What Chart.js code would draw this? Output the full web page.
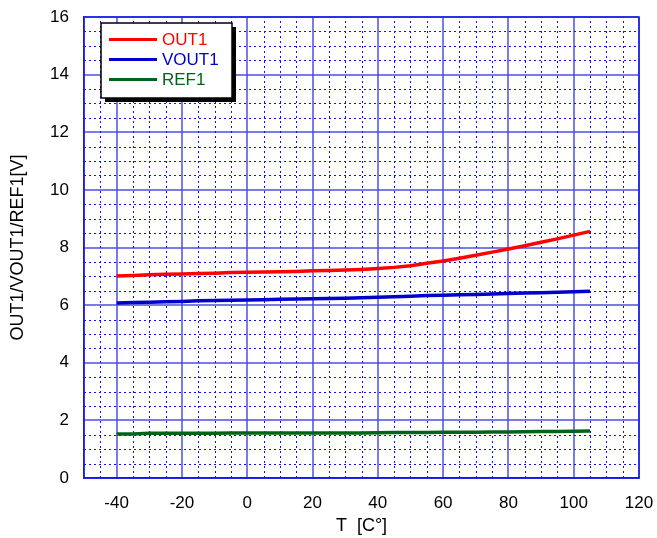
<!DOCTYPE html>
<html><head><meta charset="utf-8">
<script src="https://cdn.jsdelivr.net/npm/chart.js@4"></script>
<style>html,body{margin:0;padding:0;background:#fff;overflow:hidden;}</style>
</head><body>
<canvas id="c" width="657" height="538"></canvas>
<script>
const temperatures = [-40,-35,-30,-25,-20,-15,-10,-5,0,5,10,15,20,25,30,35,40,45,50,55,60,65,70,75,80,85,90,95,100,105];
const out1  = [7.01,7.03,7.05,7.07,7.08,7.10,7.11,7.13,7.14,7.15,7.16,7.17,7.19,7.20,7.22,7.24,7.27,7.31,7.37,7.45,7.53,7.63,7.73,7.84,7.95,8.06,8.18,8.30,8.43,8.56];
const vout1 = [6.07,6.09,6.10,6.12,6.13,6.15,6.16,6.17,6.18,6.19,6.20,6.21,6.22,6.23,6.24,6.26,6.27,6.29,6.31,6.33,6.34,6.36,6.37,6.39,6.40,6.42,6.43,6.45,6.46,6.48];
const ref1  = [1.53,1.53,1.55,1.55,1.55,1.555,1.555,1.56,1.56,1.56,1.56,1.56,1.56,1.565,1.565,1.565,1.57,1.575,1.58,1.58,1.585,1.59,1.59,1.595,1.60,1.605,1.61,1.615,1.62,1.63];
const seriesNames = ['OUT1','VOUT1','REF1'];
const xTickValues = [-40,-20,0,20,40,60,80,100,120];
const yTickValues = [0,2,4,6,8,10,12,14,16];
const xTitle = 'T  [C°]';
const yTitle = 'OUT1/VOUT1/REF1[V]';

const FONT = '"Liberation Sans", Arial, sans-serif';
const toPts = arr => temperatures.map((t,i)=>({x:t, y:arr[i]}));

const minorGrid = {
  id:'minorGrid',
  beforeDatasetsDraw(chart){
    const {ctx, chartArea:a, scales:{x,y}} = chart;
    ctx.save();
    ctx.strokeStyle = '#1010ff';
    ctx.lineWidth = 1;
    ctx.setLineDash([2,3]);
    for(let v = x.min + 5; v < x.max; v += 5){
      if (v % 20 === 0) continue;
      const px = Math.round(x.getPixelForValue(v)) + 0.5;
      ctx.beginPath(); ctx.moveTo(px, a.bottom); ctx.lineTo(px, a.top); ctx.stroke();
    }
    for(let v = y.min + 0.5; v < y.max; v += 0.5){
      if (v % 2 === 0) continue;
      const py = Math.round(y.getPixelForValue(v)) + 0.5;
      ctx.beginPath(); ctx.moveTo(a.left, py); ctx.lineTo(a.right, py); ctx.stroke();
    }
    ctx.setLineDash([]);
    ctx.strokeStyle = '#1a1ae6';
    ctx.lineWidth = 1.5;
    ctx.strokeRect(a.left, a.top, a.right - a.left, a.bottom - a.top);
    ctx.restore();
  }
};

const boxLegend = {
  id:'boxLegend',
  afterDatasetsDraw(chart){
    const {ctx, chartArea:a} = chart;
    const bx = a.left + 17, by = a.top + 6, bw = 131, bh = 75;
    ctx.save();
    ctx.fillStyle = '#000';
    ctx.fillRect(bx + 4, by + 4, bw, bh);
    ctx.fillStyle = '#fff';
    ctx.fillRect(bx, by, bw, bh);
    ctx.strokeStyle = '#000';
    ctx.lineWidth = 1.5;
    ctx.strokeRect(bx, by, bw, bh);
    ctx.font = '17px ' + FONT;
    ctx.textBaseline = 'middle';
    chart.data.datasets.forEach((ds, i) => {
      const ly = by + 16.5 + i * 20;
      ctx.strokeStyle = ds.borderColor;
      ctx.lineWidth = 3;
      ctx.beginPath(); ctx.moveTo(bx + 8, ly); ctx.lineTo(bx + 56, ly); ctx.stroke();
      ctx.fillStyle = ds.borderColor;
      ctx.fillText(ds.label, bx + 61, ly + 1);
    });
    ctx.restore();
  }
};

new Chart(document.getElementById('c'), {
  type:'line',
  data:{
    datasets:[
      {label:seriesNames[0], data:toPts(out1),  borderColor:'#ff0000', borderWidth:3.5, pointRadius:0, tension:0},
      {label:seriesNames[1], data:toPts(vout1), borderColor:'#0000cc', borderWidth:3.5, pointRadius:0, tension:0},
      {label:seriesNames[2], data:toPts(ref1),  borderColor:'#006418', borderWidth:3.5, pointRadius:0, tension:0}
    ]
  },
  options:{
    responsive:false,
    animation:false,
    devicePixelRatio:1,
    layout:{padding:{top:17, right:18, left:0, bottom:0}},
    plugins:{legend:{display:false}, tooltip:{enabled:false}},
    scales:{
      x:{
        type:'linear', min:-50, max:120,
        afterBuildTicks: s => { s.ticks = xTickValues.map(v => ({value:v})); },
        afterFit: s => { s.height = 60; s.paddingLeft = 0; s.paddingRight = 0; },
        ticks:{font:{size:17, family:FONT}, color:'#000', padding:15, maxRotation:0, autoSkip:false},
        grid:{color:'rgba(70,70,225,0.72)', lineWidth:2, drawTicks:false},
        border:{color:'#1a1ae6', width:1.5},
        title:{display:true, text:xTitle, color:'#000', font:{size:18, family:FONT}, padding:{top:0,bottom:1}}
      },
      y:{
        type:'linear', min:0, max:16,
        afterBuildTicks: s => { s.ticks = yTickValues.map(v => ({value:v})); },
        afterFit: s => { s.width = 84; s.paddingTop = 0; s.paddingBottom = 0; },
        ticks:{font:{size:17, family:FONT}, color:'#000', padding:15, autoSkip:false},
        grid:{color:'rgba(70,70,225,0.72)', lineWidth:2, drawTicks:false},
        border:{color:'#1a1ae6', width:1.5},
        title:{display:true, text:yTitle, color:'#000', font:{size:18, family:FONT}, padding:{top:7,bottom:0}}
      }
    }
  },
  plugins:[minorGrid, boxLegend]
});
</script>
</body></html>
